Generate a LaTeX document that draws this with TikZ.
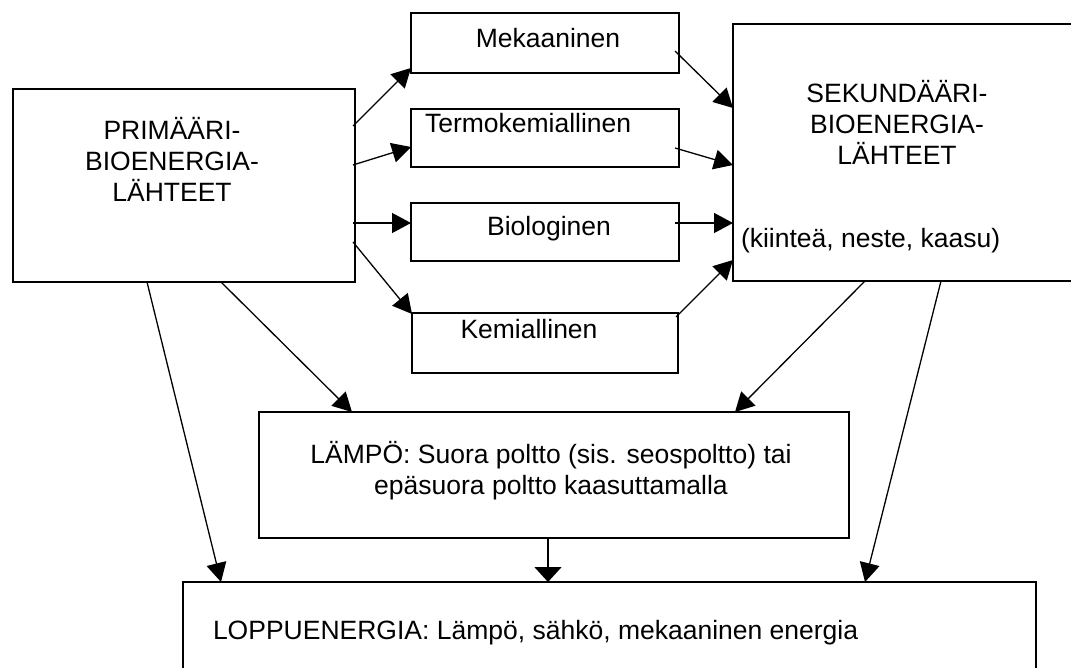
\documentclass[tikz,border=0pt]{standalone}
\usepackage{fontspec}
\setmainfont{Liberation Sans}
\usetikzlibrary{arrows.meta}

\tikzset{
  box/.style={draw, line width=1.6pt, rectangle, inner sep=0pt, outer sep=0pt},
  txt/.style={inner sep=0pt, outer sep=0pt, font=\fontsize{26.5}{31}\selectfont},
  arr/.style={line width=1.3pt, -{Triangle[length=19pt,width=20pt]}},
  arrwide/.style={line width=1.6pt, -{Triangle[length=15pt,width=27pt]}}
}

\begin{document}
\begin{tikzpicture}[x=1pt, y=-1pt]
\useasboundingbox (0,0) rectangle (1071,668);
\clip (0,0) rectangle (1071,668);

% boxes
\node[box, minimum width=342pt, minimum height=193pt] (prim) at (184,185.5) {};
\node[box, minimum width=268pt, minimum height=60pt] (mek) at (545,43) {};
\node[box, minimum width=268pt, minimum height=58pt] (term) at (545,138) {};
\node[box, minimum width=268pt, minimum height=58pt] (bio) at (545,232) {};
\node[box, minimum width=266pt, minimum height=60pt] (kem) at (545,343) {};
\node[box, minimum width=360pt, minimum height=257pt] (sek) at (913,152.5) {};
\node[box, minimum width=590pt, minimum height=126pt] (lampo) at (554,475) {};
\node[box, minimum width=853pt, minimum height=130pt] (lopp) at (609.5,647) {};

% texts
\node[txt, align=center] (primtxt) at (172,159.4) {PRIMÄÄRI-\\BIOENERGIA-\\LÄHTEET};
\node[txt, anchor=base] (mektxt) at (548,48) {Mekaaninen};
\node[txt, anchor=base west] (termtxt) at (425,133) {Termokemiallinen};
\node[txt, anchor=base] (biotxt) at (549,236) {Biologinen};
\node[txt, anchor=base] (kemtxt) at (529,338) {Kemiallinen};
\node[txt, align=center] (sektxt) at (897,122.9) {SEKUNDÄÄRI-\\BIOENERGIA-\\LÄHTEET};
\node[txt, anchor=base west] (sekform) at (741,248) {(kiinteä, neste, kaasu)};
\node[txt, align=center] (lampotxt) at (551,470.7) {LÄMPÖ: Suora poltto (sis. seospoltto) tai\\epäsuora poltto kaasuttamalla};
\node[txt, anchor=base west] (lopptxt) at (213,639) {LOPPUENERGIA: Lämpö, sähkö, mekaaninen energia};

% primary sources to the conversion routes
\draw[arr] ([shift={(-2pt,59.5pt)}]prim.east) -- ([yshift=5pt]mek.south west);
\draw[arr] ([shift={(-2pt,20.5pt)}]prim.east) -- ([yshift=-9pt]term.west);
\draw[arr] ([shift={(-2pt,-37.5pt)}]prim.east) -- ([yshift=9pt]bio.west);
\draw[arr] ([shift={(-2pt,-56.5pt)}]prim.east) -- ([yshift=-1pt]kem.north west);

% conversion routes to secondary sources
\draw[arr] ([shift={(-4pt,-8pt)}]mek.east) -- ([yshift=44.5pt]sek.west);
\draw[arr] ([shift={(-4pt,-10pt)}]term.east) -- ([yshift=-12.5pt]sek.west);
\draw[arr] ([shift={(-4pt,9pt)}]bio.east) -- ([yshift=-70.5pt]sek.west);
\draw[arr] ([shift={(-2pt,-4pt)}]kem.north east) -- ([yshift=21pt]sek.south west);

% to heat and to final energy
\draw[arr] ([xshift=37pt]prim.south) -- ([xshift=93pt]lampo.north west);
\draw[arr] ([xshift=-37pt]prim.south) -- ([xshift=38pt]lopp.north west);
\draw[arr] ([xshift=132pt]sek.south west) -- ([xshift=-114pt]lampo.north east);
\draw[arr] ([xshift=208pt]sek.south west) -- ([xshift=-171pt]lopp.north east);
\draw[arrwide] ([xshift=-6pt]lampo.south) -- ([xshift=-6pt]lampo.south |- lopp.north);
\end{tikzpicture}
\end{document}
